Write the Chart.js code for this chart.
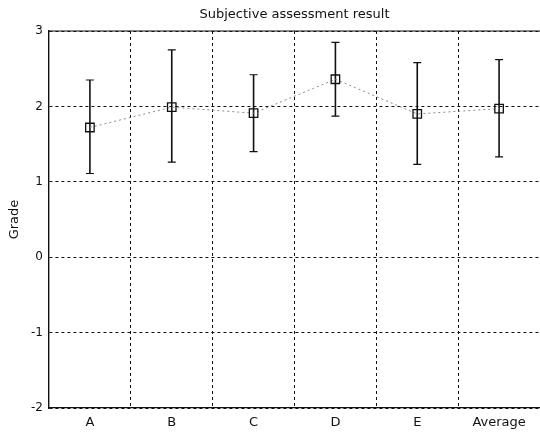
<!DOCTYPE html>
<html>
<head>
<meta charset="utf-8">
<script src="https://cdn.jsdelivr.net/npm/chart.js@4/dist/chart.umd.min.js"></script>
<style>
    html, body { margin: 0; padding: 0; background: #fff; }
    #wrap { width: 540px; height: 432px; }
</style>
</head>
<body>
<div id="wrap"><canvas id="chart" width="540" height="432"></canvas></div>
<script>
// Data
const categories = ['A', 'B', 'C', 'D', 'E', 'Average'];
const meanGrade = [1.72, 1.99, 1.91, 2.36, 1.90, 1.97];
const upperGrade = [2.35, 2.75, 2.42, 2.85, 2.58, 2.62];
const lowerGrade = [1.11, 1.26, 1.40, 1.87, 1.23, 1.33];
const yTicks = [-2, -1, 0, 1, 2, 3];
const chartTitle = 'Subjective assessment result';

const FONT = "'DejaVu Sans', sans-serif";

// Error bars drawn through the library's scales, title centred over the axes
const errorBars = {
    id: 'errorBars',
    beforeDatasetsDraw(chart) {
        const { ctx, scales: { x, y } } = chart;
        ctx.save();
        ctx.strokeStyle = '#111';
        meanGrade.forEach((m, i) => {
            const px = x.getPixelForValue(i);
            const top = y.getPixelForValue(upperGrade[i]);
            const bot = y.getPixelForValue(lowerGrade[i]);
            ctx.lineWidth = 1.6;
            ctx.beginPath();
            ctx.moveTo(px, top);
            ctx.lineTo(px, bot);
            ctx.stroke();
            ctx.lineWidth = 1.2;
            ctx.beginPath();
            ctx.moveTo(px - 4, top);
            ctx.lineTo(px + 4, top);
            ctx.moveTo(px - 4, bot);
            ctx.lineTo(px + 4, bot);
            ctx.stroke();
        });
        ctx.restore();
    },
    afterDraw(chart) {
        const { ctx, chartArea: a } = chart;
        ctx.save();
        // solid top edge of the frame
        ctx.strokeStyle = '#111';
        ctx.lineWidth = 1.2;
        ctx.beginPath();
        ctx.moveTo(a.left, a.top);
        ctx.lineTo(a.right, a.top);
        ctx.stroke();
        // title
        ctx.fillStyle = '#111';
        ctx.font = `13px ${FONT}`;
        ctx.textAlign = 'center';
        ctx.textBaseline = 'middle';
        ctx.fillText(chartTitle, (a.left + a.right) / 2, 15);
        ctx.restore();
    }
};

new Chart(document.getElementById('chart'), {
    type: 'line',
    data: {
        labels: categories,
        datasets: [{
            label: 'Grade',
            data: meanGrade,
            borderColor: '#8a8a8a',
            borderWidth: 1,
            borderDash: [2, 3],
            tension: 0,
            fill: false,
            pointStyle: 'rect',
            pointRadius: 6,
            pointBorderColor: '#111',
            pointBorderWidth: 1.3,
            pointBackgroundColor: 'rgba(255,255,255,0)'
        }]
    },
    options: {
        responsive: false,
        animation: false,
        layout: { padding: { top: 31, left: 0, right: 0, bottom: 0 }, autoPadding: false },
        plugins: {
            legend: { display: false },
            tooltip: { enabled: false },
            title: { display: false }
        },
        scales: {
            x: {
                offset: true,
                grid: { offset: true, color: '#111', lineWidth: 1, drawTicks: false },
                border: { display: true, color: '#111', width: 1.2, dash: [3, 3] },
                ticks: { color: '#111', padding: 7, font: { family: FONT, size: 13 } },
                afterFit: s => { s.height = 24; s.paddingRight = 0; s.paddingLeft = 0; }
            },
            y: {
                min: -2,
                max: 3,
                afterBuildTicks: s => { s.ticks = yTicks.map(v => ({ value: v })); },
                grid: { color: '#111', lineWidth: 1, drawTicks: false },
                border: { display: true, color: '#111', width: 1.4, dash: [3, 3] },
                ticks: { color: '#111', padding: 6, font: { family: FONT, size: 12 } },
                title: {
                    display: true,
                    text: 'Grade',
                    color: '#111',
                    font: { family: FONT, size: 13 },
                    padding: { top: 7, bottom: 0 }
                },
                afterFit: s => { s.width = 49; s.paddingTop = 0; s.paddingBottom = 0; }
            }
        }
    },
    plugins: [errorBars]
});
</script>
</body>
</html>
